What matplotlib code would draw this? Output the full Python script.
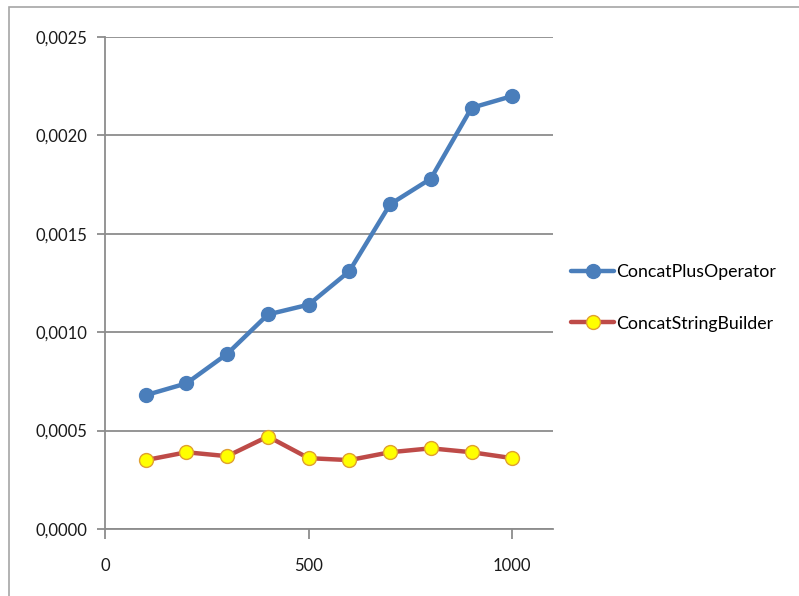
import matplotlib
matplotlib.use("Agg")
import matplotlib.pyplot as plt
from matplotlib.patches import Rectangle
from matplotlib.ticker import FuncFormatter, MultipleLocator

# Input sizes and measured timings (seconds)
sizes = [100, 200, 300, 400, 500, 600, 700, 800, 900, 1000]
plus_operator = [0.00068, 0.00074, 0.00089, 0.00109, 0.00114,
                 0.00131, 0.00165, 0.00178, 0.00214, 0.00220]
string_builder = [0.00035, 0.00039, 0.00037, 0.00047, 0.00036,
                  0.00035, 0.00039, 0.00041, 0.00039, 0.00036]
series_names = ["ConcatPlusOperator", "ConcatStringBuilder"]

plt.rcParams["font.family"] = ["Lato", "DejaVu Sans"]

fig = plt.figure(figsize=(7.99, 5.96), dpi=100)
# chart-area border
fig.patches.append(Rectangle((9 / 799, -0.1), 1.2, (596 - 7) / 596 + 0.1,
                             transform=fig.transFigure, fill=False,
                             edgecolor="#A6A6A6", linewidth=1.2))

ax = fig.add_axes([105 / 799, 1 - 529 / 596, (553 - 105) / 799, (529 - 37) / 596])

ax.plot(sizes, plus_operator, color="#4A7EBB", linewidth=3.2,
        marker="o", markersize=10, markerfacecolor="#4A7EBB",
        markeredgecolor="#4A7EBB", label=series_names[0],
        solid_joinstyle="round", solid_capstyle="round")
ax.plot(sizes, string_builder, color="#BE4B48", linewidth=3.2,
        marker="o", markersize=10, markerfacecolor="#FFFF00",
        markeredgecolor="#E0A030", markeredgewidth=1.0, label=series_names[1],
        solid_joinstyle="round", solid_capstyle="round")

ax.set_xlim(0, 1100)
ax.set_ylim(0, 0.0025)
ax.xaxis.set_major_locator(MultipleLocator(500))
ax.yaxis.set_major_locator(MultipleLocator(0.0005))
ax.yaxis.set_major_formatter(FuncFormatter(lambda v, p: f"{v:.4f}".replace(".", ",")))
ax.xaxis.set_major_formatter(FuncFormatter(lambda v, p: f"{v:.0f}"))

ax.grid(axis="y", color="#8C8C8C", linewidth=1.3)
ax.set_axisbelow(True)
for s in ("top", "right"):
    ax.spines[s].set_visible(False)
for s in ("left", "bottom"):
    ax.spines[s].set_color("#8C8C8C")
    ax.spines[s].set_linewidth(1.3)
ax.tick_params(axis="both", colors="#8C8C8C", labelcolor="#1A1A1A",
               labelsize=12, width=1.3, direction="out")
ax.tick_params(axis="x", length=7, pad=14)
ax.tick_params(axis="y", length=6, pad=7)

leg = ax.legend(loc="center left", bbox_to_anchor=(1.025, 0.47), frameon=False,
                fontsize=12.8, handlelength=2.4, handletextpad=0.1,
                labelspacing=2.0, borderaxespad=0)

fig.savefig("out.png", dpi=100)
